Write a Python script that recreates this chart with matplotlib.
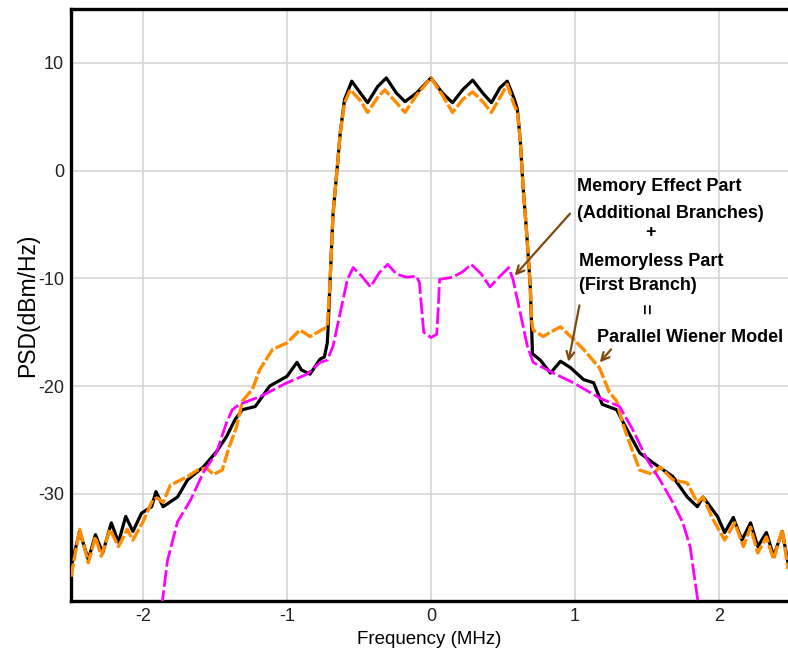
import matplotlib
matplotlib.use('Agg')
import matplotlib.pyplot as plt

plt.rcParams['font.family'] = ['Liberation Sans', 'DejaVu Sans']
plt.rcParams['axes.unicode_minus'] = False

# black: parallel Wiener model output (solid)
black_f = [-2.50, -2.44, -2.38, -2.33, -2.28, -2.22, -2.17, -2.12, -2.07, -2.01,
           -1.94, -1.91, -1.86, -1.76, -1.69, -1.58, -1.49, -1.42, -1.36, -1.31,
           -1.22, -1.12, -1.00, -0.93, -0.90, -0.84, -0.77, -0.74, -0.72, -0.715,
           -0.70, -0.68, -0.65, -0.63, -0.60, -0.55, -0.49, -0.44, -0.37, -0.31,
           -0.24, -0.18, -0.10, 0.00, 0.08, 0.15, 0.22, 0.29, 0.36, 0.42,
           0.48, 0.53, 0.58, 0.60, 0.62, 0.64, 0.665, 0.69, 0.70, 0.705,
           0.76, 0.83, 0.90, 0.97, 1.06, 1.13, 1.19, 1.29, 1.36, 1.45,
           1.54, 1.68, 1.78, 1.85, 1.89, 1.99, 2.04, 2.10, 2.16, 2.22,
           2.27, 2.33, 2.38, 2.44, 2.48]
black_v = [-36.8, -33.5, -36.1, -33.8, -35.5, -32.7, -34.5, -32.1, -33.5, -31.8,
           -31.2, -29.8, -31.2, -30.3, -28.7, -27.5, -26.1, -24.7, -23.1, -22.2,
           -21.9, -20.0, -19.1, -17.8, -18.5, -18.9, -17.5, -17.3, -16.0, -14.8,
           -10.1, -4.0, 0.4, 3.5, 6.6, 8.3, 7.2, 6.3, 7.8, 8.6,
           7.2, 6.4, 7.2, 8.6, 7.2, 6.3, 7.5, 8.4, 7.2, 6.3,
           7.7, 8.3, 6.6, 5.7, 2.9, -1.5, -5.8, -10.8, -14.8, -17.0,
           -17.6, -18.8, -17.7, -18.3, -19.4, -19.7, -21.7, -22.2, -24.0, -26.2,
           -27.1, -28.4, -30.3, -31.2, -30.3, -32.1, -33.6, -32.2, -34.3, -32.7,
           -34.9, -33.6, -35.8, -33.5, -36.4]

# orange: memory effect part (additional branches)
orange_f = [-2.50, -2.44, -2.38, -2.33, -2.29, -2.23, -2.17, -2.11, -2.07, -2.00,
            -1.93, -1.90, -1.86, -1.81, -1.69, -1.62, -1.56, -1.51, -1.45, -1.40,
            -1.35, -1.31, -1.24, -1.19, -1.10, -1.00, -0.91, -0.84, -0.72, -0.70,
            -0.68, -0.65, -0.63, -0.60, -0.56, -0.49, -0.44, -0.37, -0.32, -0.24,
            -0.18, -0.10, 0.00, 0.08, 0.15, 0.22, 0.29, 0.36, 0.42, 0.48,
            0.53, 0.58, 0.60, 0.62, 0.64, 0.665, 0.69, 0.70, 0.71, 0.78,
            0.83, 0.90, 0.97, 1.06, 1.17, 1.24, 1.29, 1.33, 1.38, 1.45,
            1.54, 1.59, 1.68, 1.78, 1.85, 1.89, 1.96, 2.04, 2.11, 2.17,
            2.22, 2.27, 2.33, 2.38, 2.44, 2.48]
orange_v = [-37.7, -33.3, -36.4, -34.0, -35.8, -33.3, -34.9, -33.3, -34.3, -32.6,
            -30.5, -30.4, -30.8, -29.2, -28.4, -27.8, -27.6, -28.2, -27.8, -25.6,
            -23.8, -21.4, -20.3, -18.5, -16.6, -16.0, -14.8, -15.4, -14.5, -10.1,
            -4.0, 0.4, 3.5, 6.3, 7.5, 6.5, 5.4, 6.8, 7.5, 6.3,
            5.4, 7.0, 8.6, 7.0, 5.4, 6.6, 7.3, 6.4, 5.4, 6.8,
            8.0, 6.0, 5.5, 2.9, -1.5, -5.8, -10.8, -14.0, -14.8, -15.4,
            -15.0, -14.5, -15.4, -16.6, -18.3, -20.6, -21.4, -23.4, -25.3, -27.8,
            -28.2, -27.5, -28.7, -29.0, -30.8, -30.3, -32.4, -34.3, -32.7, -34.9,
            -33.1, -35.5, -34.0, -36.1, -33.3, -37.0]

# magenta: memoryless part (first branch)
magenta_f = [-1.87, -1.83, -1.76, -1.67, -1.58, -1.49, -1.42, -1.38, -1.33, -1.19,
             -1.00, -0.86, -0.77, -0.72, -0.68, -0.63, -0.58, -0.54, -0.48, -0.42,
             -0.36, -0.30, -0.24, -0.17, -0.10, -0.08, -0.06, -0.05, 0.00, 0.04,
             0.05, 0.06, 0.15, 0.22, 0.28, 0.35, 0.41, 0.48, 0.54, 0.57,
             0.62, 0.67, 0.71, 0.85, 0.99, 1.17, 1.31, 1.40, 1.50, 1.59,
             1.68, 1.75, 1.80, 1.83, 1.86]
magenta_v = [-40.5, -36.2, -32.6, -30.6, -28.0, -26.2, -23.4, -22.2, -21.7, -21.0,
             -19.7, -18.9, -17.8, -17.6, -16.3, -13.2, -10.1, -9.0, -9.8, -10.8,
             -9.5, -8.7, -9.6, -9.9, -9.8, -10.4, -13.5, -15.0, -15.5, -15.2,
             -13.0, -10.1, -9.9, -9.4, -8.7, -9.6, -10.8, -9.8, -9.0, -10.1,
             -13.2, -16.3, -17.8, -18.8, -19.7, -21.1, -21.9, -24.0, -26.8, -28.7,
             -30.8, -32.7, -34.9, -37.7, -40.5]

x_ticks = [-2, -1, 0, 1, 2]
y_ticks = [-30, -20, -10, 0, 10]

fig = plt.figure(figsize=(7.88, 6.57), dpi=100)
ax = fig.add_axes([0.0901, 0.0845, 0.9099, 0.9018])

ax.plot(black_f, black_v, color='black', lw=2.3, zorder=3)
ax.plot(orange_f, orange_v, color='#ff8c00', lw=2.4, ls=(0, (4, 0.8)), zorder=4)
ax.plot(magenta_f, magenta_v, color='#ff00ff', lw=2.0, ls=(0, (6, 1.3)), zorder=5)

ax.set_xlim(-2.5, 2.48)
ax.set_ylim(-40, 15)
ax.set_xticks(x_ticks)
ax.set_yticks(y_ticks)
ax.grid(True, color='#d9d9d9', lw=1.3)
ax.set_axisbelow(True)
ax.tick_params(length=0, labelsize=13, labelcolor='#222222', pad=5)
for s in ['left', 'bottom', 'top']:
    ax.spines[s].set_linewidth(2.4)
ax.spines['right'].set_visible(False)

ax.set_xlabel('Frequency (MHz)', fontsize=13.5, labelpad=4)
ax.set_ylabel('PSD(dBm/Hz)', fontsize=16.5, labelpad=-1)

# annotation text
bold = dict(fontsize=13, fontweight='bold', color='black', zorder=6)
ax.text(1.014, -1.86, 'Memory Effect Part', ha='left', va='baseline', **bold)
ax.text(1.014, -4.36, '(Additional Branches)', ha='left', va='baseline', **bold)
ax.text(1.528, -5.76, '+', ha='center', va='center', **bold)
ax.text(1.028, -8.82, 'Memoryless Part', ha='left', va='baseline', **bold)
ax.text(1.028, -11.05, '(First Branch)', ha='left', va='baseline', **bold)
ax.text(1.514, -12.8, '=', ha='center', va='center', rotation=90, **bold)
ax.text(1.153, -15.9, 'Parallel Wiener Model', ha='left', va='baseline', **bold)

arrow = dict(arrowstyle='->', color='#7f4a10', lw=1.6, mutation_scale=14)
ax.annotate('', xy=(0.569, -9.94), xytext=(0.979, -3.8), arrowprops=arrow, zorder=6)
ax.annotate('', xy=(0.951, -18.0), xytext=(1.035, -12.26), arrowprops=arrow, zorder=6)
ax.annotate('', xy=(1.16, -18.0), xytext=(1.264, -16.4), arrowprops=arrow, zorder=6)

plt.savefig('out.png', dpi=100)
